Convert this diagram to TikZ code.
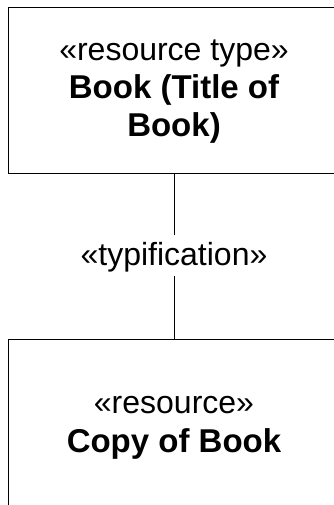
\documentclass[tikz,border=0pt]{standalone}
\usepackage{fontspec}
\setmainfont{Liberation Sans}
\begin{document}
\begin{tikzpicture}[x=1pt,y=-1pt,
  box/.style={draw=black, line width=1pt, minimum width=360pt, inner sep=0pt, anchor=north west},
  txt/.style={anchor=base, inner sep=0pt, font=\fontsize{32}{38}\selectfont},
  btxt/.style={txt, font=\fontsize{33}{38}\selectfont\bfseries},
  conn/.style={draw=black, line width=0.8pt}]
\useasboundingbox (0,0) rectangle (333,505);
\node[box, minimum height=165.5pt] (rt) at (8,7.5) {};
\node[box, minimum height=200pt] (res) at (8,339) {};
\node[txt] (rt1) at (174,61) {«resource type»};
\node[btxt] (rt2) at (174,99) {Book (Title of};
\node[btxt] (rt3) at (174,137) {Book)};
\node[txt] (rs1) at (174,413) {«resource»};
\node[btxt] (rs2) at (174,452) {Copy of Book};
\node[txt, text height=30pt, text depth=11pt, inner ysep=0pt] (typ) at (174,265) {«typification»};
\draw[conn] (typ.north) -- (typ.north |- rt.south);
\draw[conn] (typ.south) -- (typ.south |- res.north);
\end{tikzpicture}
\end{document}
